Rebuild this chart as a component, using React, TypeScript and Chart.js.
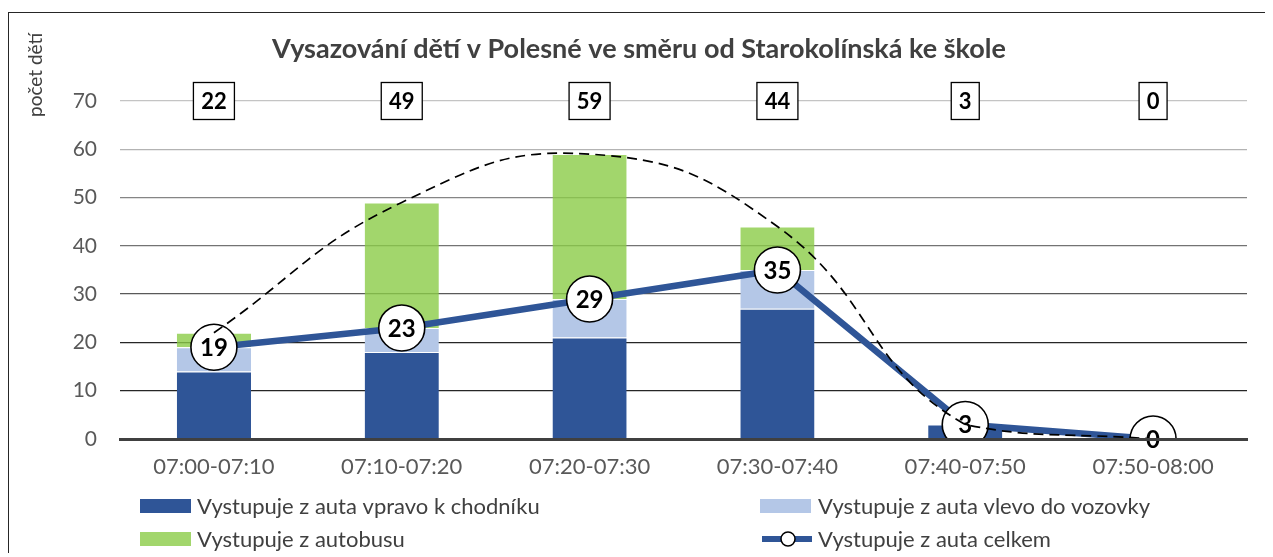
import React, { useEffect, useRef } from "react";
import { Chart, registerables } from "chart.js";

Chart.register(...registerables);

// ---------- data ----------
const categories = ["07:00-07:10", "07:10-07:20", "07:20-07:30", "07:30-07:40", "07:40-07:50", "07:50-08:00"];
const vpravo = [14, 18, 21, 27, 3, 0];
const vlevo = [5, 5, 8, 8, 0, 0];
const autobus = [3, 26, 30, 9, 0, 0];
const celkem = [19, 23, 29, 35, 3, 0];
const totals = [22, 49, 59, 44, 3, 0];
const yMin = 0;
const yMax = 70;
const yStep = 10;

const TITLE = "Vysazování dětí v Polesné ve směru od Starokolínská ke škole";
const Y_TITLE = "počet dětí";
const seriesNames = [
  "Vystupuje z auta vpravo k chodníku",
  "Vystupuje z auta vlevo do vozovky",
  "Vystupuje z autobusu",
  "Vystupuje z auta celkem",
];

// ---------- style ----------
const FONT = "Lato";
const DARK_BLUE = "#2f5597";
const LIGHT_BLUE = "#b4c7e7";
const GREEN = "rgba(139,204,71,0.8)";
const GREEN_SOLID = "#a2d66c";
const TEXT = "#404040";
const TICK = "#595959";

const gridColors: Record<number, string> = {
  0: "transparent",
  10: "#262626",
  20: "#262626",
  30: "#595959",
  40: "#737373",
  50: "#858585",
  60: "#b3b3b3",
  70: "#c4c4c4",
};

const decorPlugin = {
  id: "decor",
  afterDatasetsDraw(chart: any) {
    const ctx = chart.ctx as CanvasRenderingContext2D;
    const xs = chart.scales.x;
    const ys = chart.scales.y;
    ctx.save();
    // labels in circles
    const meta = chart.getDatasetMeta(3);
    ctx.font = `bold 24px ${FONT}`;
    ctx.fillStyle = "#000";
    ctx.textAlign = "center";
    ctx.textBaseline = "middle";
    meta.data.forEach((pt: any, i: number) => {
      ctx.fillText(String(celkem[i]), pt.x, pt.y + 1);
    });
    // total boxes on top line
    ctx.font = `bold 22px ${FONT}`;
    totals.forEach((v, i) => {
      const cx = xs.getPixelForValue(i);
      const cy = ys.getPixelForValue(yMax);
      const w = Math.round(ctx.measureText(String(v)).width + 15);
      const h = 37;
      ctx.fillStyle = "#fff";
      ctx.fillRect(cx - w / 2, cy - h / 2, w, h);
      ctx.strokeStyle = "#000";
      ctx.lineWidth = 1.3;
      ctx.strokeRect(cx - w / 2, cy - h / 2, w, h);
      ctx.fillStyle = "#000";
      ctx.fillText(String(v), cx, cy + 1);
    });
    ctx.restore();
  },
  afterDraw(chart: any) {
    const ctx = chart.ctx as CanvasRenderingContext2D;
    ctx.save();
    // title
    ctx.font = `bold 27px ${FONT}`;
    ctx.fillStyle = TEXT;
    ctx.textAlign = "center";
    ctx.textBaseline = "alphabetic";
    ctx.fillText(TITLE, 630, 45);
    // y axis title
    ctx.save();
    ctx.translate(33, 104);
    ctx.rotate(-Math.PI / 2);
    ctx.font = `19px ${FONT}`;
    ctx.textAlign = "left";
    ctx.fillText(Y_TITLE, 0, 0);
    ctx.restore();
    // legend
    const ds = chart.data.datasets;
    const items = [
      { i: 0, bx: 131, tx: 188, y: 493 },
      { i: 1, bx: 751, tx: 809, y: 493 },
      { i: 2, bx: 131, tx: 188, y: 526 },
      { i: 3, bx: 751, tx: 809, y: 526 },
    ];
    ctx.font = `22px ${FONT}`;
    ctx.textAlign = "left";
    ctx.textBaseline = "middle";
    items.forEach((it) => {
      const d = ds[it.i];
      if (d.type === "line") {
        ctx.strokeStyle = d.borderColor;
        ctx.lineWidth = 6;
        ctx.beginPath();
        ctx.moveTo(it.bx + 2, it.y);
        ctx.lineTo(it.bx + 52, it.y);
        ctx.stroke();
        ctx.beginPath();
        ctx.arc(it.bx + 28, it.y, 7, 0, Math.PI * 2);
        ctx.fillStyle = "#fff";
        ctx.fill();
        ctx.strokeStyle = "#000";
        ctx.lineWidth = 1.5;
        ctx.stroke();
      } else {
        ctx.fillStyle = it.i === 2 ? GREEN_SOLID : d.backgroundColor;
        ctx.fillRect(it.bx, it.y - 7, 51, 14);
      }
      ctx.fillStyle = TEXT;
      ctx.fillText(d.label, it.tx, it.y + 1);
    });
    ctx.restore();
  },
};

export default function App() {
  const ref = useRef<HTMLCanvasElement>(null);
  useEffect(() => {
    document.documentElement.style.overflow = "hidden";
    document.body.style.overflow = "hidden";
    const barCommon = {
      type: "bar" as const,
      stack: "bars",
      order: 2,
      barPercentage: 0.395,
      categoryPercentage: 1,
      borderColor: "#ffffff",
      borderWidth: { top: 1, left: 0, right: 0, bottom: 0 },
      borderSkipped: false,
    };
    const chart = new Chart(ref.current as HTMLCanvasElement, {
      type: "bar",
      data: {
        labels: categories,
        datasets: [
          { ...barCommon, label: seriesNames[0], data: vpravo, backgroundColor: DARK_BLUE },
          { ...barCommon, label: seriesNames[1], data: vlevo, backgroundColor: LIGHT_BLUE },
          { ...barCommon, label: seriesNames[2], data: autobus, backgroundColor: GREEN },
          {
            type: "line",
            label: seriesNames[3],
            data: celkem,
            stack: "celkem",
            order: 1,
            borderColor: DARK_BLUE,
            borderWidth: 6.5,
            tension: 0,
            pointRadius: 23,
            pointBackgroundColor: "#ffffff",
            pointBorderColor: "#000000",
            pointBorderWidth: 1.6,
            fill: false,
          },
          {
            type: "line",
            label: "trend",
            data: totals,
            stack: "trend",
            order: 0,
            borderColor: "#000000",
            borderWidth: 1.7,
            borderDash: [10, 6],
            tension: 0.45,
            pointRadius: 0,
            fill: false,
          },
        ] as any,
      },
      options: {
        responsive: false,
        animation: false,
        events: [],
        layout: { padding: { top: 88, right: 26, bottom: 78, left: 0 } },
        plugins: {
          legend: { display: false },
          tooltip: { enabled: false },
          title: { display: false },
        },
        scales: {
          x: {
            stacked: true,
            offset: true,
            grid: { display: false, drawTicks: false },
            border: { display: true, color: "#404040", width: 3, z: 1 },
            ticks: { font: { family: FONT, size: 22 }, color: TICK, padding: 15 },
            afterFit: (s: any) => {
              s.height = 40;
            },
          },
          y: {
            stacked: true,
            min: yMin,
            max: yMax,
            ticks: { stepSize: yStep, font: { family: FONT, size: 21 }, color: TICK, padding: 23 },
            grid: {
              drawTicks: false,
              color: (c: any) => gridColors[c.tick?.value] ?? "#808080",
              lineWidth: 1.3,
            },
            border: { display: false },
            afterFit: (s: any) => {
              s.width = 111;
            },
          },
        },
      } as any,
      plugins: [decorPlugin],
    });
    return () => chart.destroy();
  }, []);
  return (
    <div
      style={{
        position: "relative",
        top: 4,
        width: 1265,
        height: 545,
        boxSizing: "border-box",
        borderTop: "1px solid #262626",
        borderLeft: "1px solid #262626",
      }}
    >
      <canvas ref={ref} width={1264} height={544} style={{ display: "block", width: 1264, height: 544 }} />
    </div>
  );
}
